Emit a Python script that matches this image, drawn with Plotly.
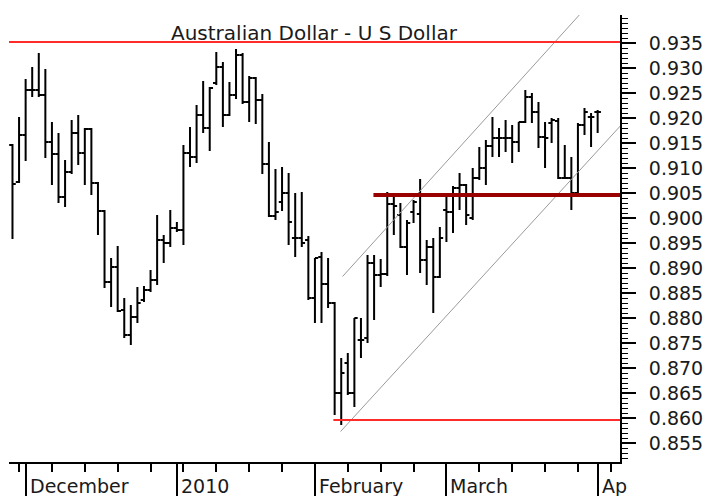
import plotly.graph_objects as go

# ---- data (trading-day index 0 = Fri 27 Nov 2009) ----
opens = [0.9146,0.9072,0.9166,0.9256,0.9256,0.9246,0.9152,0.9128,0.9042,0.9092,
         0.9170,0.9130,0.9178,0.9070,0.9014,0.8872,0.8902,0.8816,0.8766,0.8802,
         0.8836,0.8856,0.8876,0.8956,0.8950,0.8980,0.8976,0.9130,0.9122,0.9206,
         0.9180,0.9270,0.9302,0.9206,0.9246,0.9326,0.9232,0.9280,0.9236,0.9108,
         0.9004,0.9032,0.9050,0.8960,0.8960,0.8956,0.8840,0.8922,0.8868,0.8830,
         0.8650,0.8710,0.8650,0.8756,0.8760,0.8910,0.8886,0.8888,0.9028,0.9006,
         0.8942,0.9012,0.9008,0.8916,0.8942,0.8882,0.9016,0.9012,0.9060,0.9066,
         0.9000,0.9080,0.9100,0.9144,0.9160,0.9160,0.9160,0.9152,0.9192,0.9242,
         0.9212,0.9162,0.9190,0.9194,0.9080,0.9080,0.9050,0.9186,0.9202,0.9212]
highs = [0.9148,0.9202,0.9278,0.9302,0.9330,0.9298,0.9192,0.9170,0.9116,0.9196,
         0.9206,0.9180,0.9180,0.9072,0.9016,0.8920,0.8944,0.8840,0.8826,0.8862,
         0.8864,0.8896,0.9006,0.8966,0.9016,0.8992,0.9146,0.9182,0.9226,0.9274,
         0.9262,0.9332,0.9312,0.9272,0.9338,0.9330,0.9284,0.9282,0.9248,0.9152,
         0.9098,0.9102,0.9090,0.9050,0.9052,0.8964,0.8920,0.8932,0.8920,0.8832,
         0.8720,0.8730,0.8800,0.8800,0.8926,0.8926,0.8918,0.9052,0.9050,0.9030,
         0.8996,0.9036,0.9078,0.8956,0.8960,0.8982,0.9042,0.9064,0.9090,0.9068,
         0.9100,0.9142,0.9156,0.9202,0.9180,0.9196,0.9186,0.9192,0.9256,0.9250,
         0.9232,0.9192,0.9200,0.9200,0.9146,0.9122,0.9190,0.9220,0.9210,0.9216]
lows = [0.8958,0.9070,0.9114,0.9242,0.9242,0.9120,0.9066,0.9030,0.9022,0.9088,
        0.9106,0.9066,0.9046,0.8966,0.8860,0.8822,0.8812,0.8760,0.8746,0.8790,
        0.8832,0.8852,0.8866,0.8910,0.8942,0.8972,0.8946,0.9102,0.9110,0.9170,
        0.9134,0.9266,0.9182,0.9204,0.9238,0.9228,0.9192,0.9188,0.9088,0.9002,
        0.8996,0.9014,0.8946,0.8922,0.8942,0.8836,0.8790,0.8790,0.8820,0.8606,
        0.8586,0.8646,0.8622,0.8720,0.8750,0.8796,0.8862,0.8884,0.8966,0.8940,
        0.8886,0.8990,0.8890,0.8866,0.8810,0.8880,0.8952,0.8970,0.9016,0.8986,
        0.8996,0.9076,0.9066,0.9122,0.9122,0.9132,0.9110,0.9132,0.9190,0.9190,
        0.9140,0.9100,0.9150,0.9078,0.9078,0.9016,0.9046,0.9166,0.9142,0.9170]
closes = [0.9068,0.9166,0.9256,0.9256,0.9246,0.9152,0.9128,0.9042,0.9092,0.9170,
          0.9130,0.9178,0.9070,0.9014,0.8872,0.8902,0.8814,0.8766,0.8802,0.8830,
          0.8856,0.8876,0.8956,0.8950,0.8980,0.8976,0.9130,0.9122,0.9206,0.9180,
          0.9260,0.9302,0.9206,0.9246,0.9326,0.9232,0.9280,0.9236,0.9108,0.9004,
          0.9012,0.9050,0.8992,0.8960,0.8950,0.8840,0.8920,0.8868,0.8830,0.8650,
          0.8690,0.8650,0.8800,0.8756,0.8910,0.8886,0.8888,0.9028,0.9024,0.8942,
          0.8990,0.9032,0.8916,0.8942,0.8882,0.8960,0.9012,0.9060,0.9066,0.9006,
          0.9080,0.9100,0.9144,0.9160,0.9160,0.9160,0.9152,0.9192,0.9242,0.9212,
          0.9162,0.9160,0.9196,0.9080,0.9080,0.9050,0.9186,0.9212,0.9202,0.9212]
days = list(range(len(closes)))

# month starts (trading-day index) and their labels
month_idx = [2, 25, 46, 66, 89]
month_labels = ["December", "2010", "February", "March", "Ap"]
week_idx = [1, 6, 11, 16, 21, 26, 31, 36, 41, 51, 56, 61, 71, 76, 81, 86, 91]

# price-axis labels
price_ticks = [0.855, 0.860, 0.865, 0.870, 0.875, 0.880, 0.885, 0.890, 0.895,
               0.900, 0.905, 0.910, 0.915, 0.920, 0.925, 0.930, 0.935]
price_labels = ["0.855", "0.860", "0.865", "0.870", "0.875", "0.880", "0.885", "0.890", "0.895",
                "0.900", "0.905", "0.910", "0.915", "0.920", "0.925", "0.930", "0.935"]

# horizontal levels
resistance_level = 0.9352
support_level = 0.8596
support_start = 48.8
pivot_level = 0.9046
pivot_start = 54.9

# channel lines (start day, start value, end day, end value)
upper_channel_x = [50.2, 88.0]
upper_channel_y = [0.8883, 0.9432]
lower_channel_x = [49.9, 93.0]
lower_channel_y = [0.8573, 0.9192]

X_RANGE = [-0.53, 92.4]
Y_RANGE = [0.8512, 0.9406]
FONT = "DejaVu Sans"
TXT = "#1a1a1a"

fig = go.Figure()

fig.add_trace(go.Scatter(x=upper_channel_x, y=upper_channel_y, mode="lines",
                         line=dict(color="#9a9a9a", width=1), hoverinfo="skip", showlegend=False))
fig.add_trace(go.Scatter(x=lower_channel_x, y=lower_channel_y, mode="lines",
                         line=dict(color="#9a9a9a", width=1), hoverinfo="skip", showlegend=False))

fig.add_trace(go.Ohlc(x=days, open=opens, high=highs, low=lows, close=closes,
                      increasing=dict(line=dict(color="black", width=2)),
                      decreasing=dict(line=dict(color="black", width=2)),
                      tickwidth=0.5, showlegend=False, hoverinfo="skip"))

fig.add_shape(type="line", xref="x", yref="y", x0=X_RANGE[0], x1=X_RANGE[1],
              y0=resistance_level, y1=resistance_level, line=dict(color="#ff2a2a", width=2))
fig.add_shape(type="line", xref="x", yref="y", x0=support_start, x1=X_RANGE[1],
              y0=support_level, y1=support_level, line=dict(color="#ff2a2a", width=2))
fig.add_shape(type="line", xref="x", yref="y", x0=pivot_start, x1=X_RANGE[1],
              y0=pivot_level, y1=pivot_level, line=dict(color="#990000", width=4))

# title
fig.add_annotation(text="Australian Dollar - U S Dollar", xref="paper", yref="paper",
                   x=0.5, y=1, xanchor="center", yanchor="top", yshift=-4, showarrow=False,
                   font=dict(family=FONT, size=20, color=TXT))

# month labels, left aligned after the major tick
for xi, lab in zip(month_idx, month_labels):
    fig.add_annotation(text=lab, xref="x", yref="paper", x=xi + 0.3, y=0,
                       xanchor="left", yanchor="top", yshift=-11, showarrow=False,
                       font=dict(family=FONT, size=19, color=TXT))

# the page body adds an 8px offset, so the figure is 8px smaller and margins shifted
fig.update_layout(
    width=707, height=488,
    margin=dict(l=1, r=95, t=7, b=34),
    paper_bgcolor="white", plot_bgcolor="white",
    showlegend=False,
    xaxis=dict(range=X_RANGE, showgrid=False, zeroline=False,
               showline=True, linecolor="black", linewidth=2,
               tickmode="array", tickvals=month_idx, ticktext=[""] * len(month_idx),
               ticks="outside", ticklen=34, tickwidth=2, tickcolor="black",
               minor=dict(tickmode="array", tickvals=week_idx, ticks="outside",
                          ticklen=8, tickwidth=1.5, tickcolor="black", showgrid=False),
               rangeslider=dict(visible=False), fixedrange=True, automargin=False),
    yaxis=dict(range=Y_RANGE, side="right", showgrid=False, zeroline=False,
               showline=True, linecolor="black", linewidth=2,
               tickmode="array", tickvals=price_ticks, ticktext=price_labels,
               ticks="outside", ticklen=14, tickwidth=1.5, tickcolor="black",
               minor=dict(tick0=0.855, dtick=0.001, ticks="outside", ticklen=6,
                          tickwidth=1, tickcolor="black", showgrid=False),
               ticklabelstandoff=9, automargin=False,
               tickfont=dict(family=FONT, size=19, color=TXT), fixedrange=True),
)

fig.write_html("out.html")
